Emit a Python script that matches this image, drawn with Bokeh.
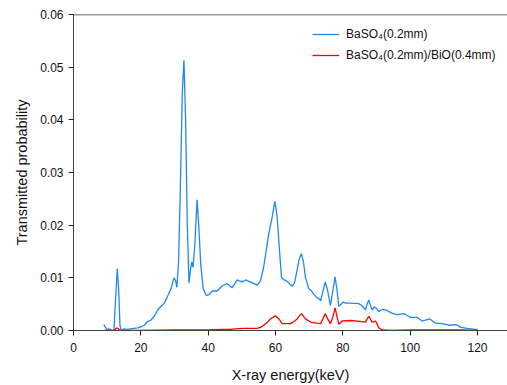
from bokeh.plotting import figure
from bokeh.models import Range1d, FixedTicker, NumeralTickFormatter, Span, Legend, LegendItem
from bokeh.embed import file_html
from bokeh.resources import INLINE

# ---- data ----
blue_energy = [9.0, 9.5, 10.0, 10.5, 11.0, 11.5, 12.0, 12.5, 13.0, 13.4, 13.8, 14.2, 15.0, 16, 17, 18, 19, 20,
               21, 22, 23, 24, 25, 26, 27, 28, 29, 29.8, 30.3, 30.7, 31.2, 31.7, 32.3, 32.8, 33.3, 33.8,
               34.3, 34.8, 35.1, 35.5, 36.0, 36.7, 37.2, 37.8, 38.5, 39.5, 40.2, 41.2, 42.7, 44.2, 45.6,
               47.1, 48.6, 49.5, 50.5, 51.1, 52.6, 54.6, 55.5, 56.5, 57.3, 58.0, 59.0, 59.8, 60.5, 61.2,
               61.8, 62.6, 63.5, 64.3, 65.0, 65.7, 66.4, 67.0, 67.7, 68.3, 68.9, 69.9, 70.6, 71.2, 72.2,
               73.0, 73.4, 74.2, 74.8, 75.5, 76.3, 77.0, 77.7, 78.3, 78.8, 79.5, 80.1, 81, 82.3, 84.7,
               85.7, 86.7, 87.2, 87.7, 88.2, 88.7, 89.3, 90.0, 90.7, 91.7, 93.1, 94.5, 96.1, 98.1, 99.0,
               100.1, 102, 103.6, 105.8, 107.5, 109.5, 111.5, 113.8, 115.0, 117, 119.4, 120]
blue_prob = [0.0011, 0.0006, 0.0001, 0.0003, 0.0002, 0.0, 0.0, 0.006, 0.0117, 0.008, 0.001, 0.0, 0.0003,
             0.0002, 0.0003, 0.0004, 0.0005, 0.0007, 0.0010, 0.0017, 0.0020, 0.0027, 0.0039, 0.0046,
             0.0052, 0.0066, 0.0080, 0.0100, 0.0095, 0.0082, 0.013, 0.026, 0.045, 0.0513, 0.040, 0.020,
             0.0090, 0.0118, 0.0130, 0.0120, 0.0160, 0.0248, 0.020, 0.0125, 0.0080, 0.0066, 0.0068,
             0.0075, 0.0075, 0.0085, 0.0089, 0.0081, 0.0096, 0.0093, 0.0093, 0.0096, 0.0092, 0.0086,
             0.0094, 0.0121, 0.0155, 0.0184, 0.0215, 0.0245, 0.0215, 0.015, 0.0100, 0.0096, 0.0093,
             0.0088, 0.0084, 0.0092, 0.0114, 0.0135, 0.0146, 0.0130, 0.0101, 0.0079, 0.0076, 0.0070,
             0.0063, 0.0060, 0.0056, 0.0078, 0.0092, 0.0075, 0.0047, 0.0075, 0.0102, 0.0075, 0.0046,
             0.0050, 0.0054, 0.0052, 0.0052, 0.0051, 0.0047, 0.0039, 0.0050, 0.0058, 0.0048, 0.0039,
             0.0045, 0.0042, 0.0036, 0.0040, 0.0038, 0.0033, 0.0030, 0.0032, 0.0029, 0.0025, 0.0025,
             0.0018, 0.0022, 0.0014, 0.0013, 0.0010, 0.0011, 0.0006, 0.0004, 0.0002, 0.0002]

red_energy = [9.0, 12, 12.5, 13.0, 13.5, 14, 20, 30, 40, 44, 46.6, 48, 50.6, 54.5, 55.5, 56.5, 57.5, 58.5,
              60.0, 61.0, 62.0, 64.5, 65.5, 66.4, 67.7, 68.9, 70.4, 72.2, 73.4, 74.8, 75.5, 76.3, 77.0,
              77.7, 78.3, 78.8, 79.8, 82.3, 85.7, 86.7, 87.7, 88.7, 89.7, 90.2, 90.7, 91.7, 95, 100,
              110, 115, 120]
red_prob = [0.0, 0.0, 0.0003, 0.0005, 0.0002, 0.0, 0.0, 0.0001, 0.0001, 0.0002, 0.0002, 0.0003, 0.0004,
            0.0004, 0.0006, 0.001, 0.0015, 0.0022, 0.0028, 0.0022, 0.0013, 0.0013, 0.0017, 0.0022,
            0.0032, 0.0022, 0.0016, 0.0014, 0.0013, 0.0032, 0.0022, 0.0013, 0.0025, 0.0043, 0.0025,
            0.0012, 0.0018, 0.0019, 0.0017, 0.0016, 0.0027, 0.0016, 0.0018, 0.0012, 0.0005, 0.0001,
            0.0, 0.0001, 0.0001, 0.0001, 0.0]

x_ticks = [0, 20, 40, 60, 80, 100, 120]
y_ticks = [0.0, 0.01, 0.02, 0.03, 0.04, 0.05, 0.06]
label_blue = "BaSO\u2084(0.2mm)"
label_red = "BaSO\u2084(0.2mm)/BiO(0.4mm)"

FONT = "Liberation Sans"

p = figure(width=507, height=385, output_backend="svg", toolbar_location=None,
           x_range=Range1d(0, 128.9), y_range=Range1d(0, 0.06),
           min_border_left=73, min_border_right=0, min_border_top=14, min_border_bottom=55)

p.outline_line_color = None
p.xgrid.visible = False
p.ygrid.visible = False
p.background_fill_color = "white"
p.border_fill_color = "white"

l1 = p.line(blue_energy, blue_prob, line_color="#1E88F5", line_width=1.3)
l2 = p.line(red_energy, red_prob, line_color="#FF0000", line_width=1.3)

for ax in (p.xaxis[0], p.yaxis[0]):
    ax.axis_line_color = "#444444"
    ax.major_tick_line_color = "#222222"
    ax.minor_tick_line_color = None
    ax.major_tick_out = 5
    ax.major_tick_in = 0
    ax.major_label_text_font = FONT
    ax.major_label_text_font_size = "12px"
    ax.major_label_text_color = "#111111"
    ax.axis_label_text_font = FONT
    ax.axis_label_text_font_size = "14.5px"
    ax.axis_label_text_font_style = "normal"
    ax.axis_label_text_color = "#111111"

p.xaxis.ticker = FixedTicker(ticks=x_ticks)
p.yaxis.ticker = FixedTicker(ticks=y_ticks)
p.yaxis.formatter = NumeralTickFormatter(format="0.00")
p.xaxis.axis_label = "X-ray energy(keV)"
p.yaxis.axis_label = "Transmitted probability"
p.xaxis.major_label_standoff = 7
p.xaxis.axis_label_standoff = 12
p.yaxis.major_label_standoff = 5
p.yaxis.axis_label_standoff = 7

top_line = Span(location=0.06, dimension="width", line_color="#333333", line_width=1.5)
p.add_layout(top_line)

legend = Legend(items=[LegendItem(label=label_blue, renderers=[l1]),
                       LegendItem(label=label_red, renderers=[l2])],
                location=(239, 265))
legend.border_line_color = None
legend.background_fill_alpha = 0
legend.label_text_font = FONT
legend.label_text_font_size = "12px"
legend.label_text_color = "#111111"
legend.glyph_width = 27
legend.glyph_height = 20
legend.label_height = 20
legend.label_standoff = 7
legend.spacing = 1
legend.padding = 0
legend.margin = 0
p.add_layout(legend)

open("out.html", "w").write(file_html(p, INLINE))
